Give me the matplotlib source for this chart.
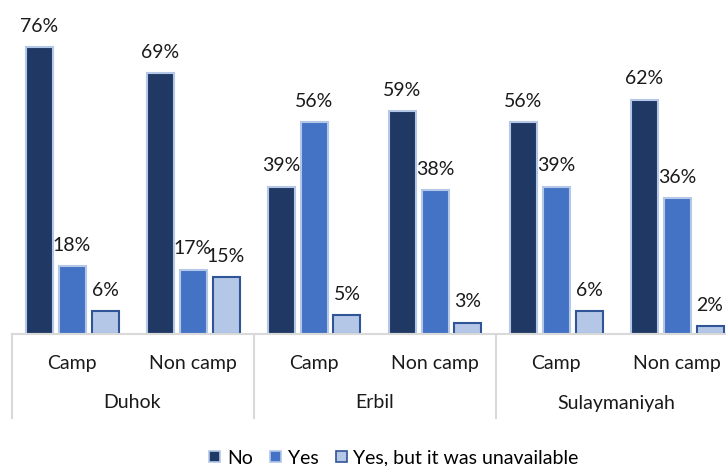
import numpy as np
import matplotlib.pyplot as plt
import matplotlib.transforms as mtransforms
from matplotlib.patches import Patch

plt.rcParams['font.family'] = ['Lato', 'DejaVu Sans']

regions = ["Duhok", "Erbil", "Sulaymaniyah"]
settings = ["Camp", "Non camp"]
series = ["No", "Yes", "Yes, but it was unavailable"]
no_vals = [76, 69, 39, 59, 56, 62]
yes_vals = [18, 17, 56, 38, 39, 36]
unavail_vals = [6, 15, 5, 3, 6, 2]

FACE = ["#203864", "#4472c4", "#b4c7e7"]
EDGE = ["#b4c7e7", "#b4c7e7", "#2f5597"]
GRID = "#d9d9d9"
FS = 14

fig = plt.figure(figsize=(7.26, 4.66), dpi=100)
ax = fig.add_axes([11.5 / 726, 132 / 466, 726 / 726, 334 / 466])

x = np.arange(len(no_vals))
step, width = 33 / 121, 27 / 121
for i, vals in enumerate([no_vals, yes_vals, unavail_vals]):
    xs = x + (i - 1) * step
    ax.bar(xs, vals, width, color=FACE[i], edgecolor=EDGE[i], linewidth=1.5,
           label=series[i], zorder=2)
    for xi, v in zip(xs, vals):
        ax.annotate(f"{v}%", (xi, v), xytext=(0, 15), textcoords="offset points",
                    ha="center", va="center", fontsize=FS, color="#1a1a1a")

ax.set_xlim(-0.5, 5.5)
ax.set_ylim(0, 88.4)
ax.axis("off")

# category axis: baseline, separators, two-level labels
tr = mtransforms.blended_transform_factory(ax.transData, ax.transAxes)
ax.plot([-0.5, 5.5], [0, 0], color=GRID, lw=1.5, transform=tr, clip_on=False, zorder=3)
for sx in [-0.5, 1.5, 3.5, 5.5]:
    ax.plot([sx, sx], [0, -84 / 334], color=GRID, lw=1.5, transform=tr, clip_on=False)
for k, xi in enumerate(x):
    ax.text(xi, -29 / 334, settings[k % 2], transform=tr, ha="center", va="center",
            fontsize=FS, color="#1a1a1a")
for r, name in enumerate(regions):
    ax.text(2 * r + 0.5, -69 / 334, name, transform=tr, ha="center", va="center",
            fontsize=FS, color="#1a1a1a")

handles = [Patch(facecolor=FACE[i], edgecolor=EDGE[i], linewidth=1.2) for i in range(3)]
fig.legend(handles, series, loc="center", bbox_to_anchor=(394 / 726, 8 / 466), ncol=3,
           frameon=False, fontsize=FS, handlelength=0.55, handleheight=0.55,
           handletextpad=0.35, columnspacing=0.9)

fig.savefig("out.png", dpi=100)
